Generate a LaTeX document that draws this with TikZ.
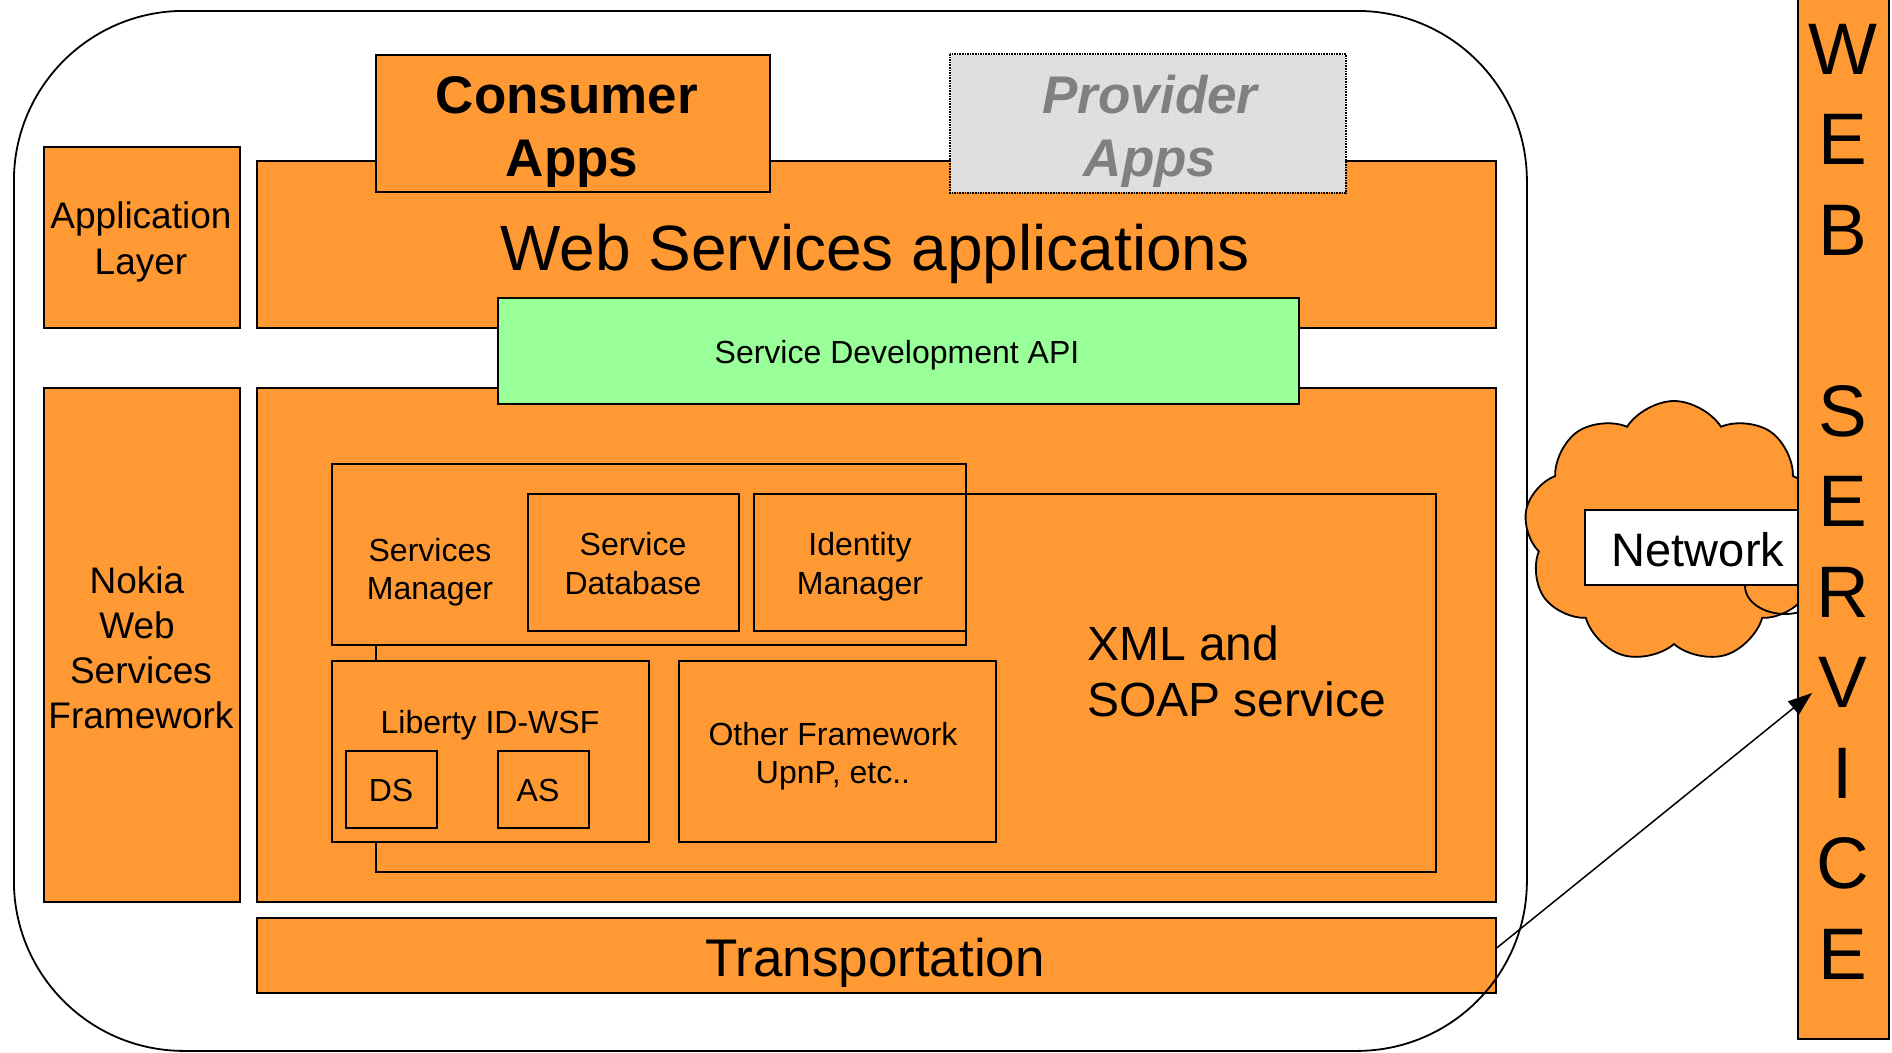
\documentclass[tikz,border=0pt]{standalone}
\usepackage{fontspec}
\setmainfont{Liberation Sans}
\usetikzlibrary{shapes.symbols,patterns,arrows.meta}
\definecolor{orng}{RGB}{255,153,51}
\definecolor{apigreen}{RGB}{153,255,153}
\definecolor{provgray}{RGB}{221,221,221}
\definecolor{provtext}{RGB}{128,128,128}
\newcommand\fsz[1]{\fontsize{#1}{#1}\selectfont}
\begin{document}
\begin{tikzpicture}[x=1pt,y=-1pt,
  box/.style={draw=black,line width=1.8pt,fill=orng,rectangle,inner sep=0pt,anchor=north west},
  txt/.style={anchor=base,inner sep=0pt},
  small/.style={txt,font=\fsz{32}},
  mid/.style={txt,font=\fsz{37}},
  letter/.style={txt,font=\fsz{73}}]
\useasboundingbox (0,0) rectangle (1892,1052);
\fill[white] (0,0) rectangle (1892,1052);

% application layer
\node[box,minimum width=196pt,minimum height=181pt] (applayer) at (43,146) {};
\node[mid] (al1) at (141,228) {Application};
\node[mid] (al2) at (141,274) {Layer};

\node[box,minimum width=1239pt,minimum height=167pt] (wsapps) at (256,160) {};
\node[txt,font=\fsz{64}] (wst) at (875,270) {Web Services applications};

\node[box,minimum width=394pt,minimum height=137pt] (consumer) at (375,54) {};
\node[txt,font=\fsz{53}\bfseries] (c1) at (567,113) {Consumer};
\node[txt,font=\fsz{53}\bfseries] (c2) at (572,176) {Apps};

\node[box,draw=none,fill=provgray,minimum width=394pt,minimum height=137pt,
  postaction={pattern=dots,pattern color=white}] (provider) at (950,54) {};
\draw[line width=1.6pt,densely dotted] (provider.north west) rectangle (provider.south east);
\node[txt,font=\fsz{53}\bfseries\itshape,text=provtext] (p1) at (1150,113) {Provider};
\node[txt,font=\fsz{53}\bfseries\itshape,text=provtext] (p2) at (1150,176) {Apps};

% framework
\node[box,minimum width=196pt,minimum height=514pt] (nokia) at (43,387) {};
\node[mid] (n1) at (137,593) {Nokia};
\node[mid] (n2) at (137,638) {Web};
\node[mid] (n3) at (141,683) {Services};
\node[mid] (n4) at (141,728) {Framework};

\node[box,minimum width=1239pt,minimum height=514pt] (fwbox) at (256,387) {};
\node[box,fill=apigreen,minimum width=801pt,minimum height=106pt] (api) at (497,297) {};
\node[small] (apit) at (897,363) {Service Development API};

\node[box,minimum width=1060pt,minimum height=378pt] (xml) at (375,493) {};
\node[txt,anchor=base west,font=\fsz{48}] (x1) at (1087,660) {XML and};
\node[txt,anchor=base west,font=\fsz{48}] (x2) at (1087,716) {SOAP service};

\node[box,minimum width=634pt,minimum height=181pt] (sm) at (331,463) {};
\node[small] (sm1) at (430,561) {Services};
\node[small] (sm2) at (430,599) {Manager};

\node[box,minimum width=211pt,minimum height=137pt] (sdb) at (527,493) {};
\node[small] (sd1) at (633,555) {Service};
\node[small] (sd2) at (633,594) {Database};

\node[box,minimum width=212pt,minimum height=137pt] (idm) at (753,493) {};
\node[small] (id1) at (860,555) {Identity};
\node[small] (id2) at (860,594) {Manager};

\node[box,minimum width=317pt,minimum height=181pt] (liberty) at (331,660) {};
\node[small] (lt) at (490,733) {Liberty ID-WSF};
\node[box,minimum width=91pt,minimum height=77pt] (ds) at (345,750) {};
\node[small] (dst) at (391,801) {DS};
\node[box,minimum width=91pt,minimum height=77pt] (as) at (497,750) {};
\node[small] (ast) at (538,801) {AS};

\node[box,minimum width=317pt,minimum height=181pt] (other) at (678,660) {};
\node[small] (o1) at (833,745) {Other Framework};
\node[small] (o2) at (833,783) {UpnP, etc..};

% transportation
\node[box,minimum width=1239pt,minimum height=75pt] (transport) at (256,917) {};
\node[txt,font=\fsz{53}] (tt) at (875,976) {Transportation};

% device frame
\node[draw=black,line width=1.8pt,rounded corners=170pt,inner sep=0pt,anchor=north west,
  minimum width=1513pt,minimum height=1040pt] (frame) at (13,10) {};

% network cloud
\node[cloud,draw=black,line width=1.8pt,fill=orng,cloud puffs=9,cloud puff arc=115,cloud ignores aspect,
  minimum width=300pt,minimum height=262pt,inner sep=0pt] (cloud) at (1674,532) {};
\draw[line width=1.8pt] (1745,586) arc[start angle=180,end angle=310,x radius=40pt,y radius=28pt];
\node[box,fill=white,minimum width=214pt,minimum height=75pt] (netbox) at (1584,509) {};
\node[txt,font=\fsz{47}] (nt) at (1698,566) {Network};

% web service bar
\node[box,minimum width=91pt,minimum height=1041pt] (bar) at (1797,-3) {};
\node[letter] (w1) at (1842.5,74) {W};
\node[letter] (w2) at (1842.5,164.5) {E};
\node[letter] (w3) at (1842.5,255) {B};
\node[letter] (w4) at (1842.5,436) {S};
\node[letter] (w5) at (1842.5,526.5) {E};
\node[letter] (w6) at (1842.5,617) {R};
\node[letter] (w7) at (1842.5,707.5) {V};
\node[letter] (w8) at (1842.5,798) {I};
\node[letter] (w9) at (1842.5,888.5) {C};
\node[letter] (w10) at (1842.5,979) {E};

% arrow
\coordinate (tip) at (1812,693);
\draw[line width=1.5pt,-{Triangle[length=24pt,width=17pt]}] ([yshift=7.5pt]transport.east) -- (tip);
\end{tikzpicture}
\end{document}
